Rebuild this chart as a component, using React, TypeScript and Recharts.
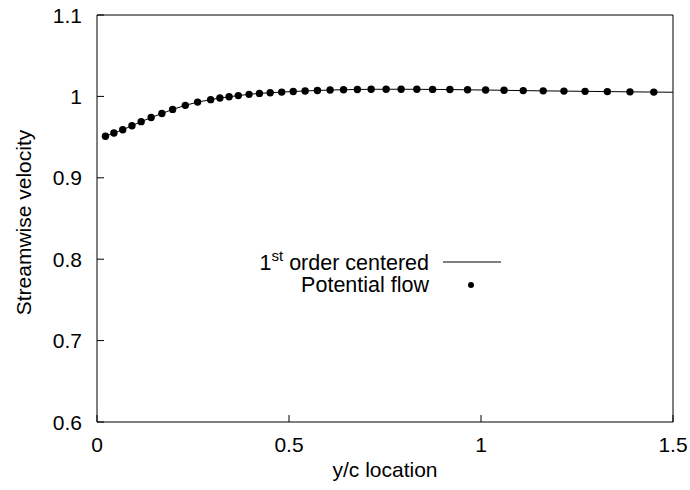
import { ComposedChart, Line, Scatter, XAxis, YAxis, Label } from "recharts";

const FONT = "'Liberation Sans', Arial, Helvetica, sans-serif";
const FS = 21;

// potential flow solution (dots)
const flowX = [
  0.022, 0.044, 0.067, 0.091, 0.115, 0.141, 0.169, 0.197, 0.23, 0.262,
  0.296, 0.32, 0.344, 0.368, 0.396, 0.423, 0.451, 0.481, 0.511, 0.542,
  0.574, 0.607, 0.642, 0.678, 0.714, 0.753, 0.792, 0.833, 0.874, 0.919,
  0.965, 1.012, 1.06, 1.11, 1.162, 1.216, 1.271, 1.329, 1.388, 1.45,
];
const flowU = [
  0.951, 0.955, 0.959, 0.964, 0.969, 0.974, 0.979, 0.984, 0.989, 0.993,
  0.996, 0.998, 0.9995, 1.001, 1.0025, 1.0037, 1.0045, 1.0053, 1.006, 1.0067,
  1.0073, 1.0078, 1.0082, 1.0085, 1.0087, 1.0088, 1.0088, 1.0087, 1.0086, 1.0084,
  1.0081, 1.0078, 1.0075, 1.0071, 1.0068, 1.0065, 1.0062, 1.0059, 1.0056, 1.0053,
];

// 1st order centered scheme (solid line)
const centeredX = [...flowX, 1.5];
const centeredU = [...flowU, 1.0051];

const xTicks = [0, 0.5, 1, 1.5];
const yTicks = [0.6, 0.7, 0.8, 0.9, 1, 1.1];

const flowData = flowX.map((x, i) => ({ x, u: flowU[i] }));
const centeredData = centeredX.map((x, i) => ({ x, u: centeredU[i] }));

const textStyle = { fontFamily: FONT, fontSize: FS, fill: "#000" };
const keyStyle = { ...textStyle, fontSize: 21.5 };

const LeftTick = ({ x, y, payload }: any) => (
  <text x={x} y={y} textAnchor="end" dominantBaseline="central" style={textStyle}>
    {payload.value}
  </text>
);

const BottomTick = ({ x, y, payload }: any) => (
  <text x={x} y={y} dy="0.71em" textAnchor="middle" style={textStyle}>
    {payload.value}
  </text>
);

const YTitle = ({ viewBox }: any) => {
  const cx = viewBox.x + 23;
  const cy = viewBox.y + viewBox.height / 2 + 4;
  return (
    <text
      x={cx}
      y={cy}
      transform={`rotate(-90 ${cx} ${cy})`}
      textAnchor="middle"
      dominantBaseline="central"
      style={textStyle}
    >
      Streamwise velocity
    </text>
  );
};

const Dot = (p: any) => <circle cx={p.cx} cy={p.cy} r={3.7} fill="#000" />;

export default function App() {
  return (
    <div style={{ position: "absolute", left: 0, top: 0, width: 690, height: 490, background: "#fff" }}>
      <ComposedChart
        width={690}
        height={490}
        margin={{ top: 0, right: 0, bottom: 0, left: 0 }}
      >
        <XAxis
          dataKey="x"
          type="number"
          domain={[0, 1.5]}
          ticks={xTicks}
          allowDataOverflow
          height={68}
          tickSize={-7}
          tickMargin={22}
          tick={BottomTick}
          axisLine={{ stroke: "#000" }}
          tickLine={{ stroke: "#000" }}
        >
          <Label
            value="y/c location"
            position="insideBottom"
            offset={13}
            style={textStyle}
          />
        </XAxis>
        <XAxis
          xAxisId="top"
          orientation="top"
          type="number"
          domain={[0, 1.5]}
          ticks={xTicks}
          allowDataOverflow
          height={15}
          tickSize={-7}
          tick={false}
          axisLine={{ stroke: "#000" }}
          tickLine={{ stroke: "#000" }}
        />
        <YAxis
          type="number"
          domain={[0.6, 1.1]}
          ticks={yTicks}
          allowDataOverflow
          width={97}
          tickSize={-7}
          tickMargin={22}
          tick={LeftTick}
          axisLine={{ stroke: "#000" }}
          tickLine={{ stroke: "#000" }}
        >
          <Label content={YTitle} />
        </YAxis>
        <YAxis
          yAxisId="right"
          orientation="right"
          type="number"
          domain={[0.6, 1.1]}
          ticks={yTicks}
          allowDataOverflow
          width={17}
          tickSize={-7}
          tick={false}
          axisLine={{ stroke: "#000" }}
          tickLine={{ stroke: "#000" }}
        />
        <Line
          data={centeredData}
          dataKey="u"
          type="linear"
          stroke="#000"
          strokeWidth={1}
          dot={false}
          activeDot={false}
          isAnimationActive={false}
        />
        <Scatter
          data={flowData}
          dataKey="u"
          shape={Dot}
          isAnimationActive={false}
        />
      </ComposedChart>
      <svg
        width={690}
        height={490}
        style={{ position: "absolute", left: 0, top: 0, pointerEvents: "none" }}
      >
        <text x={429} y={263} textAnchor="end" dominantBaseline="central" style={keyStyle}>
          1
          <tspan fontSize={15} dy={-8}>st</tspan>
          <tspan dy={8}> order centered</tspan>
        </text>
        <line x1={443} x2={501} y1={262} y2={262} stroke="#000" strokeWidth={1} />
        <text x={429} y={285} textAnchor="end" dominantBaseline="central" style={keyStyle}>
          Potential flow
        </text>
        <circle cx={471} cy={285} r={3} fill="#000" />
      </svg>
    </div>
  );
}
